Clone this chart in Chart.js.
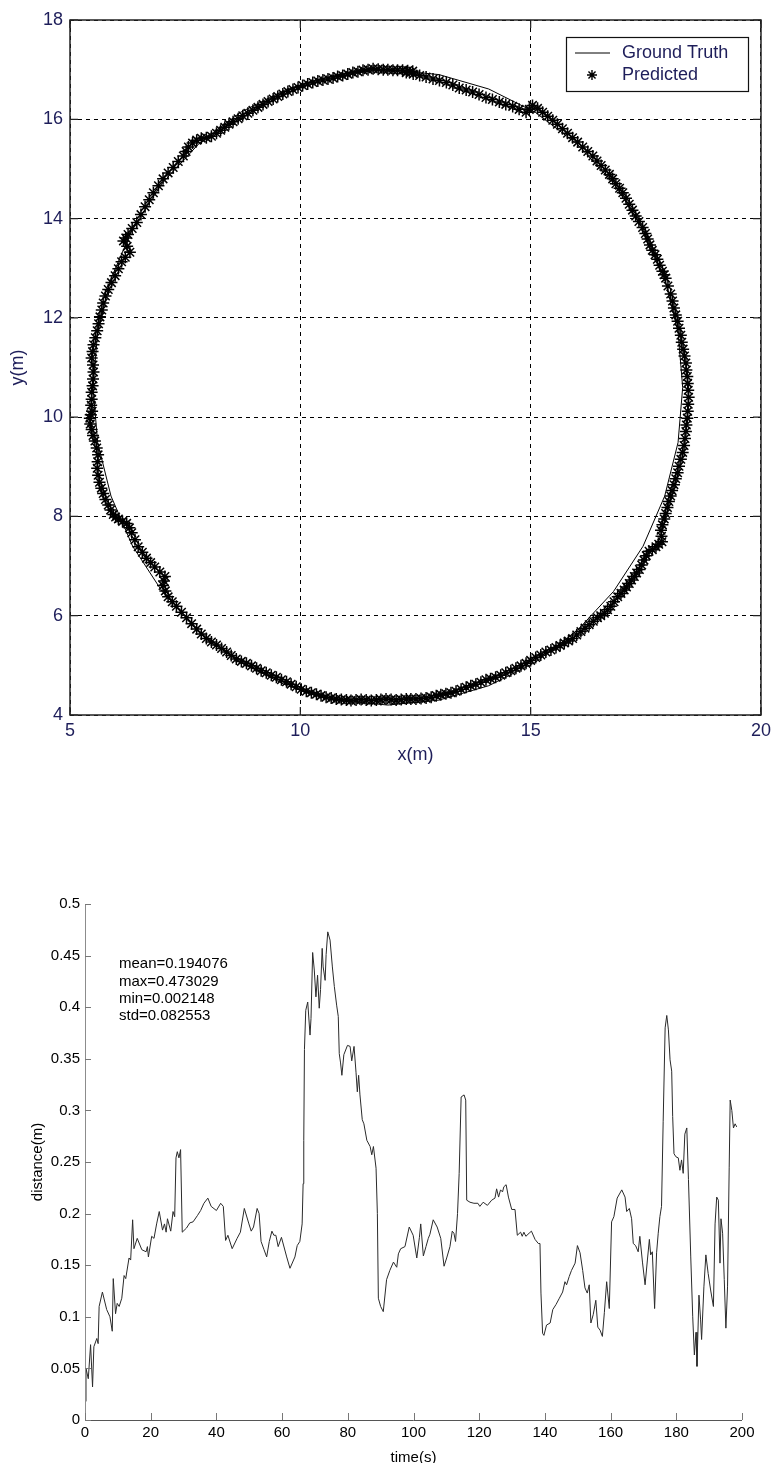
<!DOCTYPE html>
<html><head><meta charset="utf-8">
<script src="https://cdn.jsdelivr.net/npm/chart.js@4.4.1/dist/chart.umd.min.js"></script>
<style>
html,body{margin:0;padding:0;background:#fff;}
body{width:776px;height:1463px;position:relative;overflow:hidden;}
#c1{position:absolute;left:0;top:0;}
#c2{position:absolute;left:0;top:880px;}
</style></head><body>
<canvas id="c1" width="776" height="780"></canvas>
<canvas id="c2" width="776" height="583"></canvas>
<script>
// ---------- Top chart data ----------
const gtX = [18.30,18.20,17.91,17.44,16.80,16.01,15.10,14.09,13.01,11.90,10.79,9.71,8.70,7.79,7.00,6.36,5.89,5.60,5.50,5.60,5.89,6.36,7.00,7.79,8.70,9.71,10.79,11.90,13.01,14.09,15.10,16.01,16.80,17.44,17.91,18.20,18.30];
const gtY = [10.60,11.71,12.79,13.80,14.71,15.50,16.14,16.61,16.90,17.00,16.90,16.61,16.14,15.50,14.71,13.80,12.79,11.71,10.60,9.49,8.41,7.40,6.49,5.70,5.06,4.59,4.30,4.20,4.30,4.59,5.06,5.70,6.49,7.40,8.41,9.49,10.60];
// predicted positions, first reading pass
const predX = [12.44,12.01,11.58,11.14,10.71,10.27,9.84,9.41,8.97,8.54,8.18,7.96,7.75,7.57,7.46,7.24,7.02,6.81,6.63,6.45,6.26,6.16,6.30,6.12,5.98,5.83,5.72,5.65,5.59,5.51,5.47,5.51,5.49,5.47,5.48,5.43,5.47,5.54,5.61,5.59,5.64,5.72,5.83,5.94,6.05,6.23,6.34,6.48,6.66,6.84,7.06,7.02,7.13,7.31,7.53,7.75,7.96,8.18,8.40,8.61,8.83,9.05,9.26,9.48,9.70,9.91,10.13,10.35,10.56,10.78,11.00,11.21,11.43,11.65,11.86,12.08,12.30,
  12.30,12.59,12.88,13.17,13.45,13.74,14.03,14.32,14.61,14.90,15.04,15.26,15.48,15.69,15.91,16.13,16.35,16.53,16.71,16.85,17.00,17.14,17.28,17.43,17.54,17.64,17.75,17.86,17.93,18.04,18.11,18.19,18.26,18.31,18.37,18.40,18.42,18.42,18.40,18.37,18.33,18.26,18.19,18.11,18.04,17.97,17.90,17.83,17.85,17.72,17.57,17.46,17.36,17.25,17.14,17.03,16.89,16.74,16.60,16.45,16.27,16.09,15.91,15.73,15.55,15.33,15.11,14.90,14.68,14.46,14.24,14.03,13.81,13.60,13.38,13.16,12.95,12.73,12.51];
const predY = [16.97,16.99,17.02,16.94,16.83,16.74,16.60,16.41,16.18,15.95,15.72,15.63,15.58,15.44,15.26,15.03,14.80,14.52,14.24,13.92,13.68,13.55,13.32,13.13,12.85,12.57,12.30,12.02,11.74,11.46,11.19,10.91,10.63,10.36,10.12,9.98,9.75,9.52,9.24,8.97,8.69,8.46,8.23,8.04,7.95,7.86,7.67,7.39,7.16,6.98,6.79,6.61,6.38,6.19,5.96,5.73,5.54,5.41,5.27,5.13,5.04,4.94,4.85,4.76,4.67,4.57,4.48,4.42,4.36,4.32,4.30,4.30,4.30,4.30,4.32,4.30,4.32,
  16.94,16.88,16.81,16.74,16.63,16.55,16.44,16.35,16.26,16.14,16.28,16.14,15.98,15.81,15.63,15.44,15.26,15.07,14.89,14.70,14.52,14.29,14.05,13.82,13.59,13.36,13.18,12.94,12.80,12.48,12.20,11.93,11.65,11.37,11.09,10.82,10.54,10.26,9.98,9.71,9.43,9.15,8.88,8.64,8.41,8.18,7.95,7.72,7.49,7.39,7.30,7.12,6.93,6.79,6.65,6.52,6.38,6.19,6.05,5.96,5.82,5.68,5.54,5.45,5.36,5.27,5.16,5.04,4.94,4.85,4.76,4.71,4.62,4.56,4.48,4.43,4.39,4.34,4.32];
// predicted positions, second reading pass (samples lying between the first ones)
const predX2 = [12.22,11.80,11.36,10.92,10.49,10.05,9.62,9.19,8.75,8.36,8.07,7.85,7.66,7.52,7.35,7.13,6.92,6.72,6.54,6.35,6.21,6.24,6.20,6.05,5.90,5.77,5.69,5.62,5.55,5.49,5.50,5.50,5.47,5.46,5.45,5.44,5.50,5.58,5.60,5.61,5.68,5.77,5.88,5.99,6.14,6.29,6.41,6.57,6.75,6.95,7.04,7.07,7.22,7.42,7.64,7.85,8.07,8.29,8.50,8.72,8.94,9.15,9.37,9.59,9.80,10.02,10.24,10.45,10.67,10.89,11.10,11.32,11.54,11.75,11.97,12.19,
  12.45,12.73,13.02,13.31,13.60,13.88,14.17,14.46,14.75,14.97,15.15,15.37,15.58,15.80,16.02,16.24,16.44,16.62,16.78,16.93,17.07,17.21,17.35,17.49,17.59,17.70,17.80,17.90,17.98,18.08,18.15,18.22,18.28,18.34,18.38,18.41,18.43,18.41,18.38,18.35,18.30,18.22,18.15,18.07,18.00,17.93,17.86,17.84,17.78,17.64,17.51,17.41,17.30,17.19,17.08,16.96,16.81,16.67,16.52,16.36,16.18,16.00,15.82,15.64,15.44,15.22,15.00,14.79,14.57,14.35,14.13,13.92,13.70,13.49,13.27,13.05,12.84,12.62,12.40];
const predY2 = [16.99,17.00,16.99,16.88,16.79,16.68,16.51,16.30,16.07,15.84,15.66,15.62,15.52,15.35,15.15,14.92,14.66,14.38,14.08,13.80,13.61,13.44,13.22,12.99,12.71,12.44,12.16,11.88,11.60,11.32,11.05,10.77,10.50,10.24,10.05,9.86,9.63,9.38,9.10,8.83,8.57,8.34,8.13,7.99,7.90,7.77,7.53,7.28,7.07,6.88,6.70,6.50,6.28,6.07,5.84,5.63,5.47,5.34,5.20,5.08,4.99,4.89,4.80,4.71,4.62,4.52,4.45,4.39,4.34,4.31,4.29,4.31,4.29,4.31,4.31,4.31,
  16.91,16.85,16.78,16.69,16.59,16.50,16.40,16.30,16.20,16.20,16.22,16.06,15.90,15.72,15.54,15.35,15.16,14.98,14.80,14.61,14.41,14.17,13.94,13.70,13.47,13.27,13.06,12.87,12.64,12.34,12.06,11.79,11.51,11.23,10.95,10.68,10.40,10.12,9.84,9.57,9.29,9.01,8.76,8.52,8.30,8.06,7.83,7.60,7.44,7.33,7.21,7.02,6.86,6.72,6.58,6.45,6.28,6.12,6.00,5.89,5.75,5.61,5.49,5.40,5.31,5.21,5.10,4.99,4.89,4.80,4.73,4.66,4.59,4.52,4.45,4.41,4.36,4.33,4.32];
// predicted positions, third reading pass (upper-left arc)
const predX3 = [12.33,12.11,11.90,11.69,11.47,11.25,11.03,10.81,10.60,10.38,10.16,9.95,9.73,9.51,9.30,9.08,8.86,8.65,8.45,8.27];
const predY3 = [16.98,16.99,17.00,17.01,17.00,16.96,16.91,16.86,16.81,16.77,16.71,16.64,16.56,16.46,16.36,16.24,16.12,16.01,15.90,15.78];
const xTicksTop = [5,10,15,20];
const yTicksTop = [4,6,8,10,12,14,16,18];
const seriesNames = ['Ground Truth','Predicted'];

// ---------- Bottom chart data ----------
const timeSec = [0,0.3,1.0,1.7,2.3,2.7,3.6,4.0,4.3,5.3,6.6,7.6,8.3,8.6,9.3,9.8,10.4,11.2,11.9,12.4,13.4,13.9,14.5,14.9,15.9,17.3,18.6,19.0,19.3,20.3,21.0,21.8,22.6,23.6,24.2,24.7,25.1,26.1,26.8,27.3,27.7,28.1,28.6,29.1,29.6,30.9,31.9,32.9,34.2,35.2,36.2,37.4,38.4,40.0,41.3,42.1,42.8,43.5,44.8,46.3,47.3,48.5,49.9,50.6,51.3,52.4,53.0,53.6,54.5,55.3,56.1,56.9,57.5,58.1,58.8,59.8,61.4,62.4,63.9,64.6,65.4,66.1,66.4,66.6,66.8,67.2,67.8,68.5,68.8,69.3,69.8,70.3,70.8,71.3,71.7,72.2,72.5,73.1,73.4,73.9,74.6,75.3,75.9,76.6,77.1,77.4,77.8,78.2,78.8,79.9,80.7,81.2,81.9,82.5,82.9,83.3,83.7,84.4,84.9,85.8,86.8,87.3,87.8,88.6,89.0,89.3,90.0,90.8,91.8,92.8,93.9,94.9,95.4,96.1,97.4,98.7,99.9,101.0,101.8,102.2,103.0,103.8,104.5,105.0,106.0,107.2,108.3,109.3,110.1,111.1,111.8,112.3,112.8,113.4,113.9,114.5,115.4,115.9,116.2,117.2,118.4,119.6,120.2,121.2,122.5,123.8,124.8,125.3,125.9,126.5,127.1,127.5,128.2,128.9,129.9,130.9,131.6,132.6,133.1,133.6,134.2,135.2,135.9,137.0,138.0,138.5,138.8,139.3,139.7,140.5,141.6,142.4,143.4,144.4,145.4,146.1,146.6,147.4,148.1,149.2,149.9,150.7,151.5,152.2,152.9,153.5,154.0,154.7,155.5,156.1,156.8,157.5,158.1,158.8,159.6,160.3,161.0,162.0,163.4,164.4,164.9,165.7,166.4,166.9,167.6,168.4,168.9,169.7,170.5,171.2,171.8,172.2,172.7,173.4,174.0,174.5,175.0,175.5,176.0,176.6,177.1,177.6,178.1,178.6,178.9,179.3,179.9,180.6,181.1,181.6,182.1,182.6,183.2,183.7,184.4,185.0,185.5,186.0,186.3,186.9,187.4,187.7,188.4,189.0,189.7,190.5,191.3,191.8,192.3,192.8,193.3,193.6,194.1,194.6,195.1,195.6,196.1,196.4,196.9,197.4,197.9,198.4];
const distance = [0.018,0.05,0.04,0.073,0.032,0.071,0.079,0.074,0.11,0.124,0.107,0.1,0.086,0.137,0.103,0.113,0.11,0.118,0.14,0.137,0.157,0.155,0.194,0.166,0.176,0.165,0.163,0.168,0.158,0.178,0.176,0.19,0.202,0.184,0.19,0.182,0.195,0.183,0.202,0.197,0.254,0.26,0.254,0.262,0.182,0.186,0.191,0.192,0.198,0.203,0.21,0.215,0.207,0.203,0.21,0.207,0.174,0.179,0.166,0.176,0.182,0.205,0.19,0.183,0.187,0.205,0.2,0.173,0.165,0.158,0.173,0.183,0.179,0.179,0.168,0.177,0.158,0.147,0.158,0.169,0.173,0.19,0.229,0.271,0.359,0.397,0.405,0.373,0.389,0.453,0.436,0.41,0.431,0.399,0.417,0.457,0.439,0.426,0.451,0.473,0.465,0.439,0.42,0.402,0.391,0.355,0.346,0.334,0.354,0.363,0.362,0.348,0.362,0.337,0.318,0.334,0.315,0.291,0.287,0.271,0.265,0.257,0.265,0.244,0.2,0.118,0.11,0.105,0.136,0.145,0.153,0.148,0.161,0.166,0.168,0.187,0.179,0.157,0.177,0.19,0.159,0.168,0.176,0.18,0.194,0.187,0.176,0.149,0.157,0.168,0.183,0.181,0.173,0.2,0.239,0.313,0.315,0.31,0.213,0.211,0.21,0.21,0.207,0.211,0.208,0.213,0.215,0.224,0.216,0.223,0.221,0.226,0.228,0.216,0.204,0.204,0.179,0.182,0.178,0.182,0.178,0.181,0.183,0.175,0.171,0.171,0.123,0.084,0.082,0.092,0.094,0.107,0.112,0.118,0.124,0.134,0.131,0.139,0.145,0.152,0.169,0.162,0.145,0.128,0.123,0.131,0.094,0.102,0.116,0.09,0.087,0.081,0.104,0.134,0.108,0.192,0.197,0.215,0.223,0.216,0.202,0.205,0.195,0.171,0.169,0.163,0.178,0.153,0.131,0.155,0.175,0.16,0.163,0.108,0.162,0.181,0.197,0.207,0.289,0.38,0.392,0.378,0.349,0.338,0.294,0.258,0.255,0.254,0.242,0.252,0.239,0.277,0.283,0.233,0.158,0.1,0.063,0.085,0.052,0.121,0.097,0.078,0.129,0.16,0.142,0.125,0.11,0.19,0.216,0.213,0.152,0.195,0.181,0.136,0.089,0.129,0.245,0.31,0.3,0.283,0.287,0.284];
const xTicksBottom = [0,20,40,60,80,100,120,140,160,180,200];
const yTicksBottom = [0,0.05,0.1,0.15,0.2,0.25,0.3,0.35,0.4,0.45,0.5];
const statsText = ['mean=0.194076','max=0.473029','min=0.002148','std=0.082553'];

// ---------- styling ----------
const FONT = '"Liberation Sans", Arial, sans-serif';
const NAVY = '#1e1e5a';

function drawStar(ctx, cx, cy, r){
  ctx.beginPath();
  ctx.moveTo(cx - r, cy); ctx.lineTo(cx + r, cy);
  ctx.moveTo(cx, cy - r); ctx.lineTo(cx, cy + r);
  const d = r * Math.SQRT1_2;
  ctx.moveTo(cx - d, cy - d); ctx.lineTo(cx + d, cy + d);
  ctx.moveTo(cx - d, cy + d); ctx.lineTo(cx + d, cy - d);
  ctx.stroke();
}

const frameTop = {
  id: 'frameTop',
  afterDraw(chart){
    const {ctx, chartArea: a, scales: {x, y}} = chart;
    ctx.save();
    ctx.strokeStyle = '#222'; ctx.lineWidth = 1.5;
    ctx.strokeRect(a.left, a.top, a.right - a.left, a.bottom - a.top);
    ctx.lineWidth = 1.2;
    ctx.beginPath();
    xTicksTop.forEach(v => { const p = x.getPixelForValue(v);
      ctx.moveTo(p, a.bottom); ctx.lineTo(p, a.bottom - 8);
      ctx.moveTo(p, a.top); ctx.lineTo(p, a.top + 8); });
    yTicksTop.forEach(v => { const p = y.getPixelForValue(v);
      ctx.moveTo(a.left, p); ctx.lineTo(a.left + 8, p);
      ctx.moveTo(a.right, p); ctx.lineTo(a.right - 8, p); });
    ctx.stroke();
    // legend
    const L = 566, T = 37, W = 182, H = 54;
    ctx.fillStyle = '#fff'; ctx.fillRect(L, T, W, H);
    ctx.lineWidth = 1.2; ctx.strokeStyle = '#111';
    ctx.strokeRect(L + 0.5, T + 0.5, W, H);
    ctx.lineWidth = 1; ctx.strokeStyle = '#000';
    ctx.beginPath(); ctx.moveTo(575, 53); ctx.lineTo(610, 53); ctx.stroke();
    ctx.lineWidth = 1.4;
    drawStar(ctx, 592, 75, 5);
    ctx.fillStyle = NAVY;
    ctx.font = '18px ' + FONT;
    ctx.textBaseline = 'middle'; ctx.textAlign = 'left';
    ctx.fillText(chart.data.datasets[0].label, 622, 53);
    ctx.fillText(chart.data.datasets[1].label, 622, 75);
    ctx.restore();
  }
};

const frameBottom = {
  id: 'frameBottom',
  afterDraw(chart){
    const {ctx, chartArea: a, scales: {x, y}} = chart;
    ctx.save();
    ctx.lineWidth = 1;
    ctx.strokeStyle = '#8c8c8c';
    ctx.beginPath(); ctx.moveTo(a.left + 0.5, a.top); ctx.lineTo(a.left + 0.5, a.bottom); ctx.stroke();
    ctx.strokeStyle = '#555';
    ctx.beginPath(); ctx.moveTo(a.left, a.bottom + 0.5); ctx.lineTo(a.right, a.bottom + 0.5); ctx.stroke();
    ctx.strokeStyle = '#777';
    ctx.beginPath();
    xTicksBottom.forEach(v => { const p = Math.round(x.getPixelForValue(v)) + 0.5;
      ctx.moveTo(p, a.bottom); ctx.lineTo(p, a.bottom - 7); });
    yTicksBottom.forEach(v => { const p = Math.round(y.getPixelForValue(v)) + 0.5;
      ctx.moveTo(a.left, p); ctx.lineTo(a.left + 6, p); });
    ctx.stroke();
    ctx.fillStyle = '#000';
    ctx.font = '15px ' + FONT;
    ctx.textBaseline = 'middle'; ctx.textAlign = 'left';
    statsText.forEach((s, i) => ctx.fillText(s, a.left + 34, a.top + 60 + i * 17.4));
    ctx.restore();
  }
};

const toPts = (xs, ys) => xs.map((v, i) => ({x: v, y: ys[i]}));
const predPoints = toPts(predX, predY).concat(toPts(predX2, predY2), toPts(predX3, predY3));

// ---------- Top chart ----------
new Chart(document.getElementById('c1'), {
  type: 'scatter',
  data: {
    datasets: [
      { label: seriesNames[0], data: toPts(gtX, gtY),
        showLine: true, borderColor: '#000', borderWidth: 1, pointRadius: 0, tension: 0 },
      { label: seriesNames[1], data: predPoints,
        showLine: false, pointStyle: 'star', pointRadius: 6, borderColor: '#000',
        backgroundColor: '#000', pointBorderWidth: 1.5 }
    ]
  },
  options: {
    responsive: false, animation: false,
    layout: { padding: { top: 20, right: 14, left: 0, bottom: 0 } },
    plugins: { legend: { display: false }, tooltip: { enabled: false } },
    scales: {
      x: {
        type: 'linear', min: 5, max: 20,
        afterBuildTicks: s => { s.ticks = xTicksTop.map(v => ({value: v})); },
        afterFit: s => { s.height = 65; },
        grid: { color: '#000', lineWidth: 1, drawTicks: false },
        border: { display: false, dash: [4, 4] },
        ticks: { padding: 5, color: NAVY, font: { family: FONT, size: 18 }, maxRotation: 0 },
        title: { display: true, text: 'x(m)', color: NAVY, font: { family: FONT, size: 18 }, padding: { top: 0, bottom: 14 } }
      },
      y: {
        type: 'linear', min: 4, max: 18,
        afterBuildTicks: s => { s.ticks = yTicksTop.map(v => ({value: v})); },
        afterFit: s => { s.width = 70; },
        grid: { color: '#000', lineWidth: 1, drawTicks: false },
        border: { display: false, dash: [4, 4] },
        ticks: { padding: 7, color: NAVY, font: { family: FONT, size: 18 } },
        title: { display: true, text: 'y(m)', color: NAVY, font: { family: FONT, size: 18 }, padding: { top: 7, bottom: 0 } }
      }
    }
  },
  plugins: [frameTop]
});

// ---------- Bottom chart ----------
new Chart(document.getElementById('c2'), {
  type: 'scatter',
  data: {
    datasets: [
      { label: 'distance', data: toPts(timeSec, distance),
        showLine: true, borderColor: '#2a2a2a', borderWidth: 1, pointRadius: 0, tension: 0 }
    ]
  },
  options: {
    responsive: false, animation: false,
    layout: { padding: { top: 24, right: 34, left: 0, bottom: 0 } },
    plugins: { legend: { display: false }, tooltip: { enabled: false } },
    scales: {
      x: {
        type: 'linear', min: 0, max: 200,
        afterBuildTicks: s => { s.ticks = xTicksBottom.map(v => ({value: v})); },
        afterFit: s => { s.height = 43; },
        grid: { display: false, drawTicks: false },
        border: { display: false },
        ticks: { padding: 4, color: '#000', font: { family: FONT, size: 15 }, maxRotation: 0 },
        title: { display: true, text: 'time(s)', color: '#000', font: { family: FONT, size: 15 }, padding: { top: 0, bottom: -4 } }
      },
      y: {
        type: 'linear', min: 0, max: 0.5,
        afterBuildTicks: s => { s.ticks = yTicksBottom.map(v => ({value: v})); },
        afterFit: s => { s.width = 85; },
        grid: { display: false, drawTicks: false },
        border: { display: false },
        ticks: { padding: 5, color: '#000', font: { family: FONT, size: 15 },
          callback: v => String(Number(v.toFixed(2))) },
        title: { display: true, text: 'distance(m)', color: '#000', font: { family: FONT, size: 15 }, padding: { top: 29, bottom: 0 } }
      }
    }
  },
  plugins: [frameBottom]
});
</script>
</body></html>
